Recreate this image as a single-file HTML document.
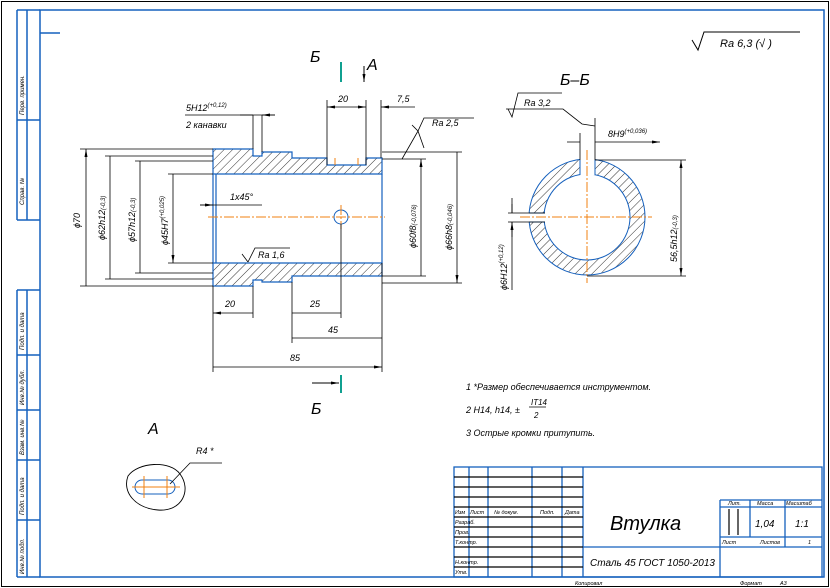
<!DOCTYPE html>
<html><head><meta charset="utf-8"><style>
html,body{margin:0;padding:0;background:#fff}
svg{display:block}
text{font-family:"Liberation Sans",sans-serif;font-style:italic;fill:#000}
</style></head><body>
<svg width="830" height="588" viewBox="0 0 830 588" xmlns="http://www.w3.org/2000/svg">
<defs>
<pattern id="h" patternUnits="userSpaceOnUse" width="6" height="6" patternTransform="rotate(45)">
<line x1="0" y1="0" x2="0" y2="6" stroke="#000" stroke-width="0.8"/>
</pattern>
<marker id="a" markerWidth="8" markerHeight="6" refX="8" refY="3" orient="auto-start-reverse" markerUnits="userSpaceOnUse">
<path d="M0,1.5 L8,3 L0,4.5z" fill="#000"/>
</marker>
</defs>
<!-- borders -->
<rect x="1.5" y="1.5" width="827" height="585" fill="none" stroke="#000" stroke-width="1"/>
<g stroke="#1560bd" stroke-width="1.5" fill="none">
<rect x="40" y="10" width="784" height="567"/>
<path d="M17,10V220M27,10V220M17,10H40M17,120H40M17,220H40M40,33H60"/>
<path d="M17,290V577M27,290V577M17,290H40M17,355H40M17,410H40M17,460H40M17,520H40M17,577H40"/>
</g>
<g font-size="6">
<text transform="translate(24,115) rotate(-90)">Перв. примен.</text>
<text transform="translate(24,205) rotate(-90)">Справ. №</text>
<text transform="translate(24,350) rotate(-90)">Подп. и дата</text>
<text transform="translate(24,405) rotate(-90)">Инв.№ дубл.</text>
<text transform="translate(24,455) rotate(-90)">Взам. инв.№</text>
<text transform="translate(24,515) rotate(-90)">Подп. и дата</text>
<text transform="translate(24,574) rotate(-90)">Инв.№ подл.</text>
</g>
<!-- title block -->
<g stroke="#1560bd" stroke-width="1.3" fill="none">
<rect x="454" y="467" width="368" height="110"/>
<path d="M469,467V577M488,467V577M532,467V577M562,467V577M583,467V577"/>
<path d="M720,500V577M750,500V537M785,500V547M583,547H822M720,507H822M720,537H822M720,500H822"/>
</g>
<g stroke="#000" stroke-width="1.2">
<path d="M454,477H583M454,487H583M454,497H583M454,507H583M454,517H583M454,527H583M454,537H583M454,547H583M454,557H583M454,567H583"/>
<path d="M729,509V535M738,509V535"/>
</g>
<g font-size="5.5">
<text x="455" y="514">Изм</text><text x="470" y="514">Лист</text><text x="494" y="514">№ докум.</text><text x="540" y="514">Подп.</text><text x="565" y="514">Дата</text>
<text x="455" y="524">Разраб.</text><text x="455" y="534">Пров.</text><text x="455" y="544">Т.контр.</text><text x="455" y="564">Н.контр.</text><text x="455" y="574">Утв.</text>
<text x="728" y="505">Лит.</text><text x="757" y="505">Масса</text><text x="786" y="505">Масштаб</text>
<text x="722" y="544">Лист</text><text x="760" y="544">Листов</text><text x="808" y="544">1</text>
<text x="575" y="585">Копировал</text><text x="740" y="585">Формат</text><text x="780" y="585">А3</text>
</g>
<text x="610" y="530" font-size="20">Втулка</text>
<text x="755" y="527" font-size="10">1,04</text><text x="795" y="527" font-size="10">1:1</text>
<text x="590" y="566" font-size="10">Сталь 45 ГОСТ 1050-2013</text>
<!-- Ra 6,3 -->
<path d="M692,40L698,50L704,32H800" fill="none" stroke="#000"/>
<text x="720" y="47" font-size="11">Ra 6,3 (√ )</text>
<!-- main part -->
<path d="M213,149H253V156H262V152H292V158H327V165H366V158H382V174H213Z" fill="url(#h)" stroke="#1560bd" stroke-width="1.2"/>
<path d="M213,286H253V280H262V282H292V276H382V263H213Z" fill="url(#h)" stroke="#1560bd" stroke-width="1.2"/>
<path d="M213,174V263M216,174V263M382,174V263" stroke="#1560bd" stroke-width="1.2"/>
<circle cx="341" cy="217" r="7" fill="#fff" stroke="#1560bd"/>
<path d="M208,217H385M341,205V229M335,158V165M358,158V165" stroke="#f08010" stroke-dasharray="10,2,2,2"/>
<g stroke="#000" stroke-width="0.8" fill="none">
<!-- left dims ext -->
<path d="M80,149H213M105,156H213M135,161H213M168,174H213M80,286H213M105,279H213M135,273H213M168,263H213"/>
<path d="M86,149V286M110,156V279M140,161V273M173,174V263" marker-start="url(#a)" marker-end="url(#a)"/>
<path d="M382,159H426M382,152H462M382,276H426M382,283H462"/>
<path d="M421,159V276M457,152V283" marker-start="url(#a)" marker-end="url(#a)"/>
<!-- bottom dims -->
<path d="M213,286V372M253,286V318M292,282V343M341,224V318M382,263V372"/>
<path d="M213,313H253M292,313H341M292,338H382M213,367H382" marker-start="url(#a)" marker-end="url(#a)"/>
<!-- top -->
<path d="M253,115V149M262,115V152M185,115H275"/>
<path d="M240,115H253M275,115H262" marker-end="url(#a)"/>
<path d="M327,100V165M366,100V165M381,100V158"/>
<path d="M327,107H366" marker-start="url(#a)" marker-end="url(#a)"/>
<path d="M415,107H381" marker-end="url(#a)"/>
<path d="M200,205H262"/><path d="M200,205H213" marker-end="url(#a)"/>
<!-- Ra 2,5 -->
<path d="M402,159L418,131L424,148M412,125L418,131L424,118H474"/>
<path d="M248,262L242,254M248,262L255,248H290"/>
</g>
<g font-size="9">
<text transform="translate(80,228) rotate(-90)">ϕ70</text>
<text transform="translate(105,240) rotate(-90)">ϕ62h12<tspan font-size="6">(-0,3)</tspan></text>
<text transform="translate(135,242) rotate(-90)">ϕ57h12<tspan font-size="6">(-0,3)</tspan></text>
<text transform="translate(168,245) rotate(-90)">ϕ45H7<tspan font-size="6" dy="-4">(+0,025)</tspan></text>
<text transform="translate(416,248) rotate(-90)">ϕ60f8<tspan font-size="6">(-0,076)</tspan></text>
<text transform="translate(452,250) rotate(-90)">ϕ66h8<tspan font-size="6">(-0,046)</tspan></text>
<text x="225" y="307">20</text><text x="310" y="307">25</text><text x="328" y="333">45</text><text x="290" y="361">85</text>
<text x="186" y="111">5H12<tspan font-size="6" dy="-4">(+0,12)</tspan></text>
<text x="186" y="128">2 канавки</text>
<text x="338" y="102">20</text><text x="397" y="102">7,5</text>
<text x="230" y="200">1x45°</text>
<text x="432" y="126">Ra 2,5</text><text x="258" y="258">Ra 1,6</text>
</g>
<!-- section marks -->
<path d="M341,62V82M341,375V393" stroke="#10a090" stroke-width="2"/>
<path d="M364,66V82" stroke="#000" marker-end="url(#a)"/>
<path d="M312,383H339" stroke="#000" marker-end="url(#a)"/>
<text x="310" y="62" font-size="16" font-style="normal">Б</text>
<text x="367" y="70" font-size="16" font-style="normal">А</text>
<text x="311" y="414" font-size="16" font-style="normal">Б</text>
<!-- section B-B -->
<path fill-rule="evenodd" d="M529,217a58,58 0 1,0 116,0a58,58 0 1,0 -116,0ZM544,217a43,43 0 1,0 86,0a43,43 0 1,0 -86,0Z" fill="url(#h)" stroke="#1560bd"/>
<rect x="580" y="155" width="15" height="20" fill="#fff"/>
<rect x="527" y="213" width="18" height="9" fill="#fff"/>
<path d="M580,160V175M595,160V175M529,213H545M529,222H545" stroke="#1560bd"/>
<path d="M520,217H652M587,150V283" stroke="#f08010" stroke-dasharray="10,2,2,2"/>
<g stroke="#000" stroke-width="0.8" fill="none">
<path d="M580,133V160M595,118V160M595,160H686M587,276H686"/>
<path d="M681,160V276" marker-start="url(#a)" marker-end="url(#a)"/>
<path d="M567,142H580M608,142H595M595,142H660" marker-end="url(#a)"/>
<path d="M508,213H545M508,222H545M512,198V213M512,237V222"/>
<path d="M512,204V213M512,232V222" marker-end="url(#a)"/>
<path d="M512,222V290"/>
<path d="M508,109L512,117L518,93H562M506,109H563L582,124L595,126"/>
</g>
<text x="560" y="85" font-size="16" font-style="normal">Б–Б</text>
<text x="524" y="106" font-size="9">Ra 3,2</text>
<text x="608" y="137" font-size="9">8H9<tspan font-size="6" dy="-4">(+0,036)</tspan></text>
<text transform="translate(677,262) rotate(-90)" font-size="9">56,5h12<tspan font-size="6">(-0,3)</tspan></text>
<text transform="translate(507,290) rotate(-90)" font-size="9">ϕ6H12<tspan font-size="6" dy="-4">(+0,12)</tspan></text>
<!-- notes -->
<g font-size="9">
<text x="466" y="390">1 *Размер обеспечивается инструментом.</text>
<text x="466" y="413">2 H14, h14, ± </text>
<text x="531" y="405" font-size="8">IT14</text>
<path d="M529,407H546" stroke="#000" stroke-width="0.7"/>
<text x="534" y="418" font-size="8">2</text>
<text x="466" y="436">3 Острые кромки притупить.</text>
</g>
<!-- detail A -->
<text x="148" y="434" font-size="16" font-style="normal">А</text>
<path d="M128,476C138,462 170,460 180,474C192,490 182,512 158,510C135,508 122,492 128,476Z" fill="none" stroke="#000" stroke-width="0.9"/>
<rect x="135" y="480" width="40" height="14" rx="7" fill="none" stroke="#1560bd"/>
<path d="M132,487H180M144,476V498M167,476V498" stroke="#f08010"/>
<path d="M170,484L190,463H222" stroke="#000" stroke-width="0.8" fill="none"/>
<text x="196" y="454" font-size="9">R4 *</text>
</svg>
</body></html>
